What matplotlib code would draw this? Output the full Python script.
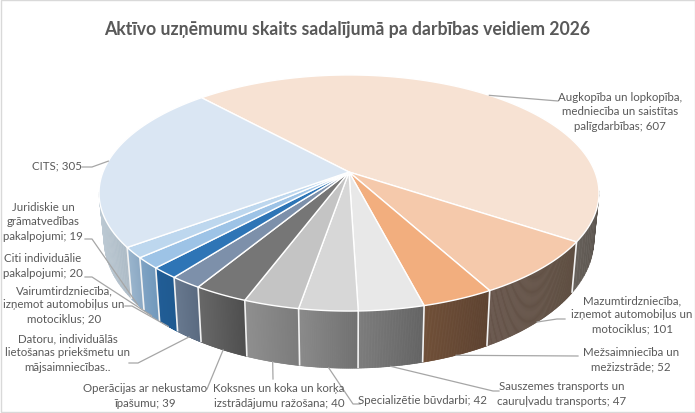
import math
import numpy as np
import matplotlib
matplotlib.use("Agg")
import matplotlib.pyplot as plt
from matplotlib.patches import Polygon, Rectangle

plt.rcParams['font.family'] = ['Lato', 'DejaVu Sans']

labels = [
    "Augkopība un lopkopība,\nmedniecība un saistītas\npalīgdarbības; 607",
    "Mazumtirdzniecība,\nizņemot automobiļus un\nmotociklus; 101",
    "Mežsaimniecība un\nmežizstrāde; 52",
    "Sauszemes transports un\ncauruļvadu transports; 47",
    "Specializētie būvdarbi; 42",
    "Koksnes un koka un korķa\nizstrādājumu ražošana; 40",
    "Operācijas ar nekustamo\nīpašumu; 39",
    "Datoru, individuālās\nlietošanas priekšmetu un\nmājsaimniecības..",
    "Vairumtirdzniecība,\nizņemot automobiļus un\nmotociklus; 20",
    "Citi individuālie\npakalpojumi; 20",
    "Juridiskie un\ngrāmatvedības\npakalpojumi; 19",
    "CITS; 305",
]
values = [607, 101, 52, 47, 42, 40, 39, 23, 20, 20, 19, 305]

top_colors = ["#f7e2d3", "#f5c9ab", "#f2ae7e", "#e8e8e8", "#d7d7d7", "#c4c4c4",
              "#767676", "#7d90aa", "#2e75b6", "#9dc3e6", "#bdd7ee", "#dae6f3"]
# side wall shading, left colour and right colour
side_left = ["#68625c", "#66544a", "#6f4e36", "#7c7c7c", "#8a8a8a", "#8f8f8f",
             "#686868", "#68798f", "#215d96", "#80a3c4", "#9ab5cd", "#bcc9d3"]
side_right = ["#5c554f", "#5f4f42", "#5d4230", "#636363", "#707070", "#7b7b7b",
              "#4e4e4e", "#5a6a80", "#1f5a90", "#7098bb", "#8ba8c3", "#adbbc6"]

# label centre (x, y) in pixels, and the elbow points of the leader line
label_pos = [(620, 112), (632, 315), (631, 360), (562, 394), (422, 401), (279, 396),
             (145, 396), (67.5, 353), (64, 305), (43, 266), (43, 222), (57.5, 166)]
leader_pts = [
    [(558, 102)],
    [(557, 320), (565, 320)],
    [(578, 357)],
    [(493, 392), (499, 392)],
    [(353, 405), (360, 405)],
    [(273, 380)],
    [(207, 390)],
    [(138, 364), (129, 364)],
    [(132, 307), (125, 307)],
    [(92, 278), (85, 278)],
    [(92, 240), (85, 240)],
    [(92, 168), (82, 168)],
]

# perspective disc
cx, cy = 349, 173
ax_a, ax_b, persp = 246, 114.3, 0.178
start_deg = 132.7


def top_xy(deg):
    t = np.radians(deg)
    X, Y = np.cos(t), np.sin(t)
    w = 1 + persp * Y
    return cx + ax_a * X / w, cy - ax_b * Y / w


def bottom_xy(x, y):
    return cx + 0.98 * (x - cx), y + 57 + 0.09 * (y - 310)


fig = plt.figure(figsize=(6.95, 4.14), dpi=100, facecolor="white")
ax = fig.add_axes([0, 0, 1, 1])
ax.set_xlim(0, 695)
ax.set_ylim(414, 0)
ax.axis("off")
ax.add_patch(Rectangle((0.5, 0.5), 694, 413, fc="white", ec="#d9d9d9", lw=1, zorder=0))

total = sum(values)
edges = [start_deg]
for v in values:
    edges.append(edges[-1] - 360 * v / total)

# side walls first, the top surface covers what is behind it
for i in range(len(values)):
    a0, a1 = edges[i], edges[i + 1]
    ang = np.linspace(a0, a1, 90)
    x, y = top_xy(ang)
    bx, by = bottom_xy(x, y)
    front = np.sin(np.radians(ang)) < -persp
    xmin, xmax = x[front].min(), x[front].max()
    c0 = np.array(matplotlib.colors.to_rgb(side_left[i]))
    c1 = np.array(matplotlib.colors.to_rgb(side_right[i]))
    for j in range(len(ang) - 1):
        if not (front[j] or front[j + 1]):
            continue
        f = np.clip((x[j] - xmin) / max(xmax - xmin, 1), 0, 1)
        col = c0 + (c1 - c0) * f
        quad = [(x[j], y[j]), (x[j + 1], y[j + 1]), (bx[j + 1], by[j + 1]), (bx[j], by[j])]
        ax.add_patch(Polygon(quad, fc=col, ec=col, lw=0.4, zorder=2))

for a in edges[:-1]:
    x, y = top_xy(a)
    if math.sin(math.radians(a)) < -persp:
        bx, by = bottom_xy(x, y)
        ax.plot([x, bx], [y, by], color="#f2f2f2", lw=1.2, zorder=3, solid_capstyle="butt")

# top surface
for i in range(len(values)):
    ang = np.linspace(edges[i], edges[i + 1], 120)
    x, y = top_xy(ang)
    pts = [(cx, cy)] + list(zip(x, y))
    ax.add_patch(Polygon(pts, fc=top_colors[i], ec="white", lw=1.0, zorder=4, joinstyle="round"))

# data labels with leader lines
for i in range(len(values)):
    mid = (edges[i] + edges[i + 1]) / 2
    x, y = top_xy(mid)
    if math.sin(math.radians(mid)) < -persp:
        x, y = bottom_xy(x, y)
    pts = [(x, y)] + leader_pts[i]
    ax.plot([p[0] for p in pts], [p[1] for p in pts], color="#a6a6a6", lw=0.9, zorder=5)
    ax.text(label_pos[i][0], label_pos[i][1], labels[i], ha="center", va="center",
            fontsize=8.3, color="#595959", linespacing=1.36, zorder=6)

ax.text(347, 30, "Aktīvo uzņēmumu skaits sadalījumā pa darbības veidiem 2026",
        ha="center", va="center", fontsize=12.7, fontweight="bold", color="#595959")

fig.savefig("out.png", dpi=100)
